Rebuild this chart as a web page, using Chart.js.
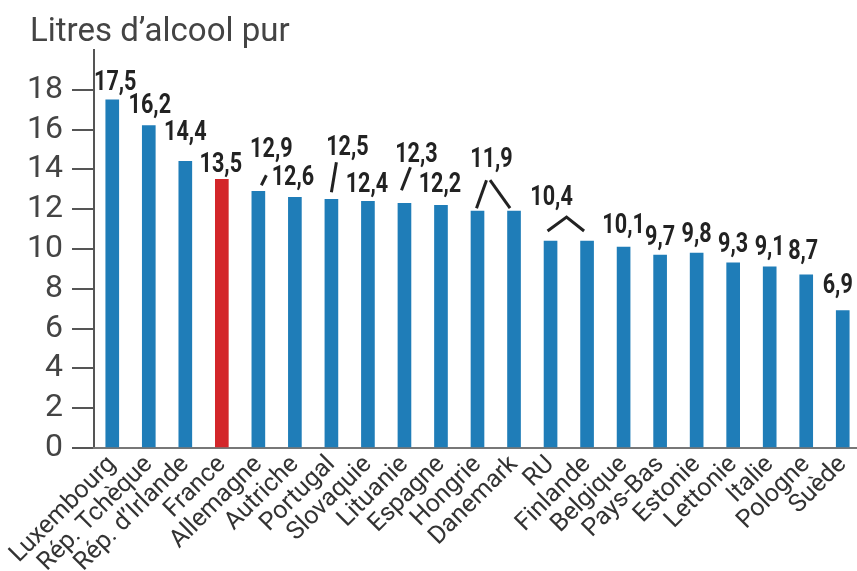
<!DOCTYPE html>
<html>
<head>
<meta charset="utf-8">
<script src="https://cdn.jsdelivr.net/npm/chart.js@4.4.1/dist/chart.umd.min.js"></script>
<style>
    html, body { margin: 0; padding: 0; background: #fff; overflow: hidden; }
</style>
</head>
<body>
<canvas id="chart" width="861" height="571"></canvas>
<script>
// consommation d'alcool par pays, en litres d'alcool pur
const pays = ['Luxembourg', 'Rép. Tchèque', 'Rép. d\u2019Irlande', 'France', 'Allemagne', 'Autriche', 'Portugal',
    'Slovaquie', 'Lituanie', 'Espagne', 'Hongrie', 'Danemark', 'RU', 'Finlande', 'Belgique', 'Pays-Bas',
    'Estonie', 'Lettonie', 'Italie', 'Pologne', 'Suède']
const litres = [17.5, 16.2, 14.4, 13.5, 12.9, 12.6, 12.5, 12.4, 12.3, 12.2, 11.9, 11.9, 10.4, 10.4, 10.1, 9.7,
    9.8, 9.3, 9.1, 8.7, 6.9]
const yTicks = [0, 2, 4, 6, 8, 10, 12, 14, 16, 18]

const BLUE = '#1f7db8'
const RED = '#d3262a'
const INK = '#222'

// where each value label sits relative to the top of its bar [dx, dy]
// null = label shared with the previous bar
const labelPos = [
    [3, -10], [1, -13], [0, -21], [-1, -7], [13, -34], [-2, -12], [16, -44], [-1, -9], [12, -41], [-1, -13],
    [14, -44], null, [1, -36], null, [0, -14], [0, -10], [0, -11], [0, -11], [0, -12], [-3, -16], [-5, -18]
]
// little leader lines, points given as [bar index, dx, dy]
const leaders = [
    [[4, 3, -6], [4, 8, -16]],
    [[6, 0, -7], [6, 5, -37]],
    [[8, -3, -13], [8, 6, -36]],
    [[10, -1, -3], [10, 9, -31]],
    [[11, -24, -31], [11, -4, -3]],
    [[12, -3, -10], [12, 16, -24], [13, -3, -10]]
]

const fmt = v => v.toFixed(1).replace('.', ',')

const titlePlugin = {
    id: 'titleText',
    afterDraw(chart) {
        const ctx = chart.ctx
        ctx.save()
        ctx.font = '33px Roboto, sans-serif'
        ctx.fillStyle = '#444'
        ctx.textBaseline = 'alphabetic'
        ctx.fillText('Litres d\u2019alcool pur', 30, 41)
        ctx.restore()
    }
}

const valueLabels = {
    id: 'valueLabels',
    afterDatasetsDraw(chart) {
        const ctx = chart.ctx
        const bars = chart.getDatasetMeta(0).data
        ctx.save()
        ctx.font = 'bold 27px Roboto, sans-serif'
        ctx.fillStyle = INK
        ctx.textAlign = 'center'
        ctx.textBaseline = 'alphabetic'
        litres.forEach((v, i) => {
            const p = labelPos[i]
            if (!p) return
            // squeeze the figures a bit, condensed look
            ctx.save()
            ctx.translate(bars[i].x + p[0], bars[i].y + p[1])
            ctx.scale(0.8, 1)
            ctx.fillText(fmt(v), 0, 0)
            ctx.restore()
        })
        ctx.strokeStyle = INK
        ctx.lineWidth = 3
        leaders.forEach(pts => {
            ctx.beginPath()
            pts.forEach(([i, dx, dy], k) => {
                const x = bars[i].x + dx, y = bars[i].y + dy
                if (k === 0) ctx.moveTo(x, y)
                else ctx.lineTo(x, y)
            })
            ctx.stroke()
        })
        ctx.restore()
    }
}

const chart = new Chart(document.getElementById('chart'), {
    type: 'bar',
    data: {
        labels: pays,
        datasets: [{
            data: litres,
            backgroundColor: pays.map(p => p === 'France' ? RED : BLUE),
            barThickness: 13,
            borderWidth: 0
        }]
    },
    options: {
        responsive: false,
        animation: false,
        devicePixelRatio: 1,
        layout: { padding: { top: 50, left: 0, right: 0, bottom: 0 } },
        plugins: {
            legend: { display: false },
            tooltip: { enabled: false }
        },
        scales: {
            y: {
                min: 0,
                max: 20,
                afterBuildTicks: s => { s.ticks = yTicks.map(v => ({ value: v })) },
                afterFit: s => { s.width = 94 },
                ticks: {
                    color: '#444',
                    padding: 9,
                    font: { family: 'Roboto', size: 32 }
                },
                grid: {
                    drawOnChartArea: false,
                    drawTicks: true,
                    tickLength: 22,
                    color: '#555',
                    lineWidth: 2
                },
                border: { display: true, color: '#555', width: 2 }
            },
            x: {
                afterFit: s => { s.height = 123 },
                grid: { display: false },
                border: { display: true, color: '#777', width: 2 },
                ticks: {
                    autoSkip: false,
                    minRotation: 45,
                    maxRotation: 45,
                    color: '#333',
                    padding: -6,
                    font: { family: 'Roboto', size: 25 }
                }
            }
        }
    },
    plugins: [titlePlugin, valueLabels]
})
</script>
</body>
</html>
